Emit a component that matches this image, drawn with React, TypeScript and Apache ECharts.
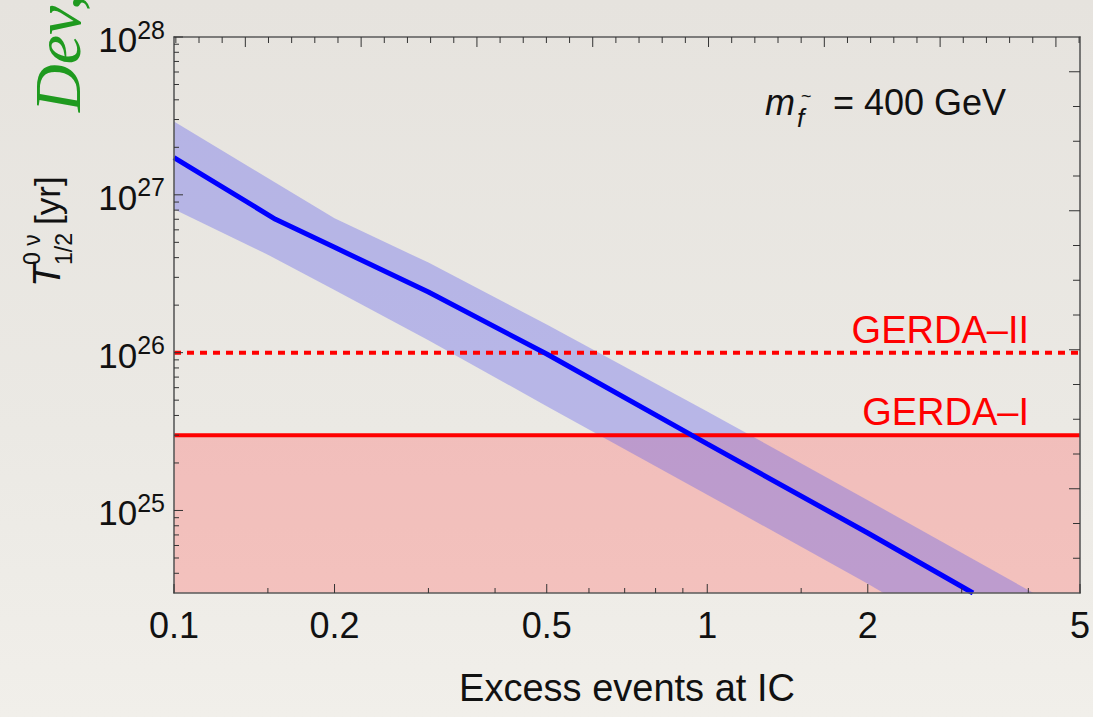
import React, { useEffect, useRef } from 'react';
import * as echarts from 'echarts';

const FONT = '"Liberation Sans", Arial, Helvetica, sans-serif';

// axis ranges
const xMin = 0.1;
const xMax = 5;
const yMin = 3e24;
const yMax = 1e28;

// central prediction (blue line)
const centralLine: number[][] = [
  [0.1, 1.72e27],
  [0.155, 7.0e26],
  [0.2, 4.65e26],
  [0.3, 2.42e26],
  [0.5, 9.8e25],
  [1, 2.64e25],
  [2, 7.2e24],
  [3.15, 3e24],
];

// uncertainty band edges
const bandUpper: number[][] = [
  [0.1, 2.92e27],
  [0.2, 7.1e26],
  [0.3, 3.72e26],
  [0.5, 1.51e26],
  [1, 4.24e25],
  [2, 1.16e25],
  [4.09, 3e24],
];
const bandLower: number[][] = [
  [0.1, 8.1e26],
  [0.15, 4.17e26],
  [0.2, 2.49e26],
  [0.3, 1.2e26],
  [0.5, 4.58e25],
  [1, 1.26e25],
  [2, 3.43e24],
  [2.14, 3e24],
];

// experimental limits
const gerdaI = 3e25;
const gerdaII = 1e26;

// ticks
const xMajorTicks = [0.1, 0.2, 0.5, 1, 2, 5];
const xTickLabels = ['0.1', '0.2', '0.5', '1', '2', '5'];
const xMinorTicks = [0.15, 0.3, 0.4, 0.6, 0.7, 0.8, 0.9, 1.5, 3, 4];
const yMajorTicks = [1e25, 1e26, 1e27, 1e28];
const yTickExponents = ['25', '26', '27', '28'];
const yMinorTicks = [
  4e24, 5e24, 6e24, 7e24, 8e24, 9e24,
  2e25, 3e25, 4e25, 5e25, 6e25, 7e25, 8e25, 9e25,
  2e26, 3e26, 4e26, 5e26, 6e26, 7e26, 8e26, 9e26,
  2e27, 3e27, 4e27, 5e27, 6e27, 7e27, 8e27, 9e27,
];
// frame ticks on top / right (uniform)
const topAxisMin = -3.08;
const topAxisMax = 36.04;
const topMajorTicks = [0, 5, 10, 15, 20, 25, 30, 35];
const topMinorTicks = [
  -3, -2, -1, 1, 2, 3, 4, 6, 7, 8, 9, 11, 12, 13, 14, 16, 17, 18, 19,
  21, 22, 23, 24, 26, 27, 28, 29, 31, 32, 33, 34, 36,
];
const rightAxisMin = 0;
const rightAxisMax = 16;
const rightMajorTicks = [3, 7, 11, 15];
const rightMinorTicks = [1, 2, 4, 5, 6, 8, 9, 10, 12, 13, 14];

const TICK_COLOR = '#333';
const FRAME_COLOR = '#5a5a5a';

function tickLine(x1: number, y1: number, x2: number, y2: number) {
  return {
    type: 'line',
    shape: { x1, y1, x2, y2 },
    style: { stroke: TICK_COLOR, lineWidth: 1 },
  };
}

function buildOption() {
  return {
    animation: false,
    backgroundColor: 'transparent',
    grid: { left: 174, top: 37, width: 906, height: 556, containLabel: false },
    xAxis: [
      {
        type: 'log',
        logBase: 10,
        min: xMin,
        max: xMax,
        position: 'bottom',
        z: 10,
        axisLine: { show: true, onZero: false, lineStyle: { color: FRAME_COLOR, width: 1.6 } },
        axisTick: { show: false },
        axisLabel: { show: false },
        splitLine: { show: false },
        name: 'Excess events at IC',
        nameLocation: 'middle',
        nameGap: 76,
        nameTextStyle: { fontSize: 38, fontFamily: FONT, color: '#111' },
      },
      {
        type: 'value',
        min: topAxisMin,
        max: topAxisMax,
        position: 'top',
        z: 10,
        axisLine: { show: true, onZero: false, lineStyle: { color: FRAME_COLOR, width: 1.6 } },
        axisTick: { show: false },
        axisLabel: { show: false },
        splitLine: { show: false },
      },
    ],
    yAxis: [
      {
        type: 'log',
        logBase: 10,
        min: yMin,
        max: yMax,
        position: 'left',
        z: 10,
        axisLine: { show: true, onZero: false, lineStyle: { color: FRAME_COLOR, width: 1.6 } },
        axisTick: { show: false },
        axisLabel: { show: false },
        splitLine: { show: false },
      },
      {
        type: 'value',
        min: rightAxisMin,
        max: rightAxisMax,
        position: 'right',
        z: 10,
        axisLine: { show: true, onZero: false, lineStyle: { color: FRAME_COLOR, width: 1.6 } },
        axisTick: { show: false },
        axisLabel: { show: false },
        splitLine: { show: false },
      },
    ],
    series: [
      {
        name: 'excluded',
        type: 'custom',
        xAxisIndex: 0,
        yAxisIndex: 0,
        z: 1,
        data: [[1, 1e26]],
        renderItem: (_p: any, api: any) => {
          const a = api.coord([xMin, gerdaI]);
          const b = api.coord([xMax, yMin]);
          return {
            type: 'rect',
            shape: { x: a[0], y: a[1], width: b[0] - a[0], height: b[1] - a[1] },
            style: { fill: 'rgba(255,94,93,0.3)' },
          };
        },
      },
      {
        name: 'band',
        type: 'custom',
        xAxisIndex: 0,
        yAxisIndex: 0,
        z: 2,
        data: [[1, 1e26]],
        renderItem: (_p: any, api: any) => {
          const pts: number[][] = [];
          bandUpper.forEach((d) => pts.push(api.coord(d)));
          for (let i = bandLower.length - 1; i >= 0; i--) pts.push(api.coord(bandLower[i]));
          return {
            type: 'polygon',
            shape: { points: pts },
            style: { fill: 'rgba(88,90,237,0.35)' },
          };
        },
      },
      {
        name: 'GERDA-II',
        type: 'line',
        xAxisIndex: 0,
        yAxisIndex: 0,
        z: 3,
        showSymbol: false,
        symbol: 'none',
        data: [[xMin, gerdaII], [xMax, gerdaII]],
        lineStyle: { color: '#ff0000', width: 4, type: [7, 6] },
      },
      {
        name: 'GERDA-I',
        type: 'line',
        xAxisIndex: 0,
        yAxisIndex: 0,
        z: 3,
        showSymbol: false,
        symbol: 'none',
        data: [[xMin, gerdaI], [xMax, gerdaI]],
        lineStyle: { color: '#ff0000', width: 4 },
      },
      {
        name: 'central',
        type: 'line',
        xAxisIndex: 0,
        yAxisIndex: 0,
        z: 4,
        clip: true,
        showSymbol: false,
        symbol: 'none',
        data: centralLine,
        lineStyle: { color: '#0000ff', width: 5 },
      },
      {
        name: 'logTicks',
        type: 'custom',
        xAxisIndex: 0,
        yAxisIndex: 0,
        z: 11,
        clip: false,
        silent: true,
        data: [[1, 1e26]],
        renderItem: (_p: any, api: any) => {
          const children: any[] = [];
          const left = api.coord([xMin, yMin])[0];
          const bottom = api.coord([xMin, yMin])[1];
          yMajorTicks.forEach((v, i) => {
            const y = api.coord([xMin, v])[1];
            children.push(tickLine(left, y, left + 9, y));
            children.push({
              type: 'text',
              x: left - 9,
              y: y,
              style: {
                text: '{b|10}{s|' + yTickExponents[i] + '}',
                align: 'right',
                verticalAlign: 'middle',
                fill: '#111',
                rich: {
                  b: { fontSize: 35, fontFamily: FONT, fill: '#111', lineHeight: 40, verticalAlign: 'bottom' },
                  s: { fontSize: 25, fontFamily: FONT, fill: '#111', lineHeight: 22, verticalAlign: 'top' },
                },
              },
            });
          });
          yMinorTicks.forEach((v) => {
            const y = api.coord([xMin, v])[1];
            children.push(tickLine(left, y, left + 5, y));
          });
          xMajorTicks.forEach((v, i) => {
            const x = api.coord([v, yMin])[0];
            children.push(tickLine(x, bottom, x, bottom - 9));
            children.push({
              type: 'text',
              x: x,
              y: bottom + 14,
              style: {
                text: xTickLabels[i],
                align: 'center',
                verticalAlign: 'top',
                fill: '#111',
                font: '36px ' + FONT,
              },
            });
          });
          xMinorTicks.forEach((v) => {
            const x = api.coord([v, yMin])[0];
            children.push(tickLine(x, bottom, x, bottom - 5));
          });
          return { type: 'group', children };
        },
      },
      {
        name: 'topTicks',
        type: 'custom',
        xAxisIndex: 1,
        yAxisIndex: 0,
        z: 11,
        clip: false,
        silent: true,
        data: [[0, 1e26]],
        renderItem: (_p: any, api: any) => {
          const children: any[] = [];
          topMajorTicks.forEach((v) => {
            const p = api.coord([v, yMax]);
            children.push(tickLine(p[0], p[1], p[0], p[1] + 10));
          });
          topMinorTicks.forEach((v) => {
            const p = api.coord([v, yMax]);
            children.push(tickLine(p[0], p[1], p[0], p[1] + 6));
          });
          return { type: 'group', children };
        },
      },
      {
        name: 'rightTicks',
        type: 'custom',
        xAxisIndex: 0,
        yAxisIndex: 1,
        z: 11,
        clip: false,
        silent: true,
        data: [[1, 8]],
        renderItem: (_p: any, api: any) => {
          const children: any[] = [];
          rightMajorTicks.forEach((v) => {
            const p = api.coord([xMax, v]);
            children.push(tickLine(p[0], p[1], p[0] - 11, p[1]));
          });
          rightMinorTicks.forEach((v) => {
            const p = api.coord([xMax, v]);
            children.push(tickLine(p[0], p[1], p[0] - 7, p[1]));
          });
          return { type: 'group', children };
        },
      },
    ],
    graphic: [
      {
        type: 'text',
        x: 90,
        y: 112,
        rotation: Math.PI / 2,
        style: {
          text: 'Dev,',
          font: 'italic 66px "Liberation Serif", "DejaVu Serif", serif',
          fill: '#1f9a1f',
          align: 'left',
          verticalAlign: 'bottom',
        },
      },
      {
        type: 'group',
        x: 47,
        y: 287,
        rotation: Math.PI / 2,
        children: [
          { type: 'text', x: 0, y: 0, style: { text: 'T', font: 'italic 38px ' + FONT, fill: '#111', verticalAlign: 'middle', align: 'left' } },
          { type: 'text', x: 22, y: -15, style: { text: '0 ν', font: '23px ' + FONT, fill: '#111', verticalAlign: 'middle', align: 'left' } },
          { type: 'text', x: 22, y: 17, style: { text: '1/2', font: '23px ' + FONT, fill: '#111', verticalAlign: 'middle', align: 'left' } },
          { type: 'text', x: 62, y: 0, style: { text: '[yr]', font: '35px ' + FONT, fill: '#111', verticalAlign: 'middle', align: 'left' } },
        ],
      },
      { type: 'text', x: 765, y: 102, style: { text: 'm', font: 'italic 36px ' + FONT, fill: '#111', verticalAlign: 'middle' } },
      { type: 'text', x: 797, y: 118, style: { text: 'f', font: 'italic 26px ' + FONT, fill: '#111', verticalAlign: 'middle' } },
      { type: 'text', x: 801, y: 96, style: { text: '~', font: '18px ' + FONT, fill: '#111', verticalAlign: 'middle' } },
      { type: 'text', x: 833, y: 102, style: { text: '= 400 GeV', font: '36px ' + FONT, fill: '#111', verticalAlign: 'middle' } },
      { type: 'text', x: 1029, y: 330, style: { text: 'GERDA–II', font: '38px ' + FONT, fill: '#ff0000', align: 'right', verticalAlign: 'middle' } },
      { type: 'text', x: 1029, y: 412, style: { text: 'GERDA–I', font: '38px ' + FONT, fill: '#ff0000', align: 'right', verticalAlign: 'middle' } },
    ],
  };
}

export default function App() {
  const ref = useRef<HTMLDivElement>(null);
  useEffect(() => {
    if (!ref.current) return;
    const chart = echarts.init(ref.current, null, { renderer: 'svg' });
    chart.setOption(buildOption() as any);
    return () => chart.dispose();
  }, []);
  return (
    <div
      style={{
        position: 'fixed',
        left: 0,
        top: 0,
        width: 1093,
        height: 717,
        background: 'linear-gradient(to bottom, #e6e3de 0%, #ebe9e4 60%, #f1efea 100%)',
      }}
    >
      <div ref={ref} style={{ width: 1093, height: 717 }} />
    </div>
  );
}
